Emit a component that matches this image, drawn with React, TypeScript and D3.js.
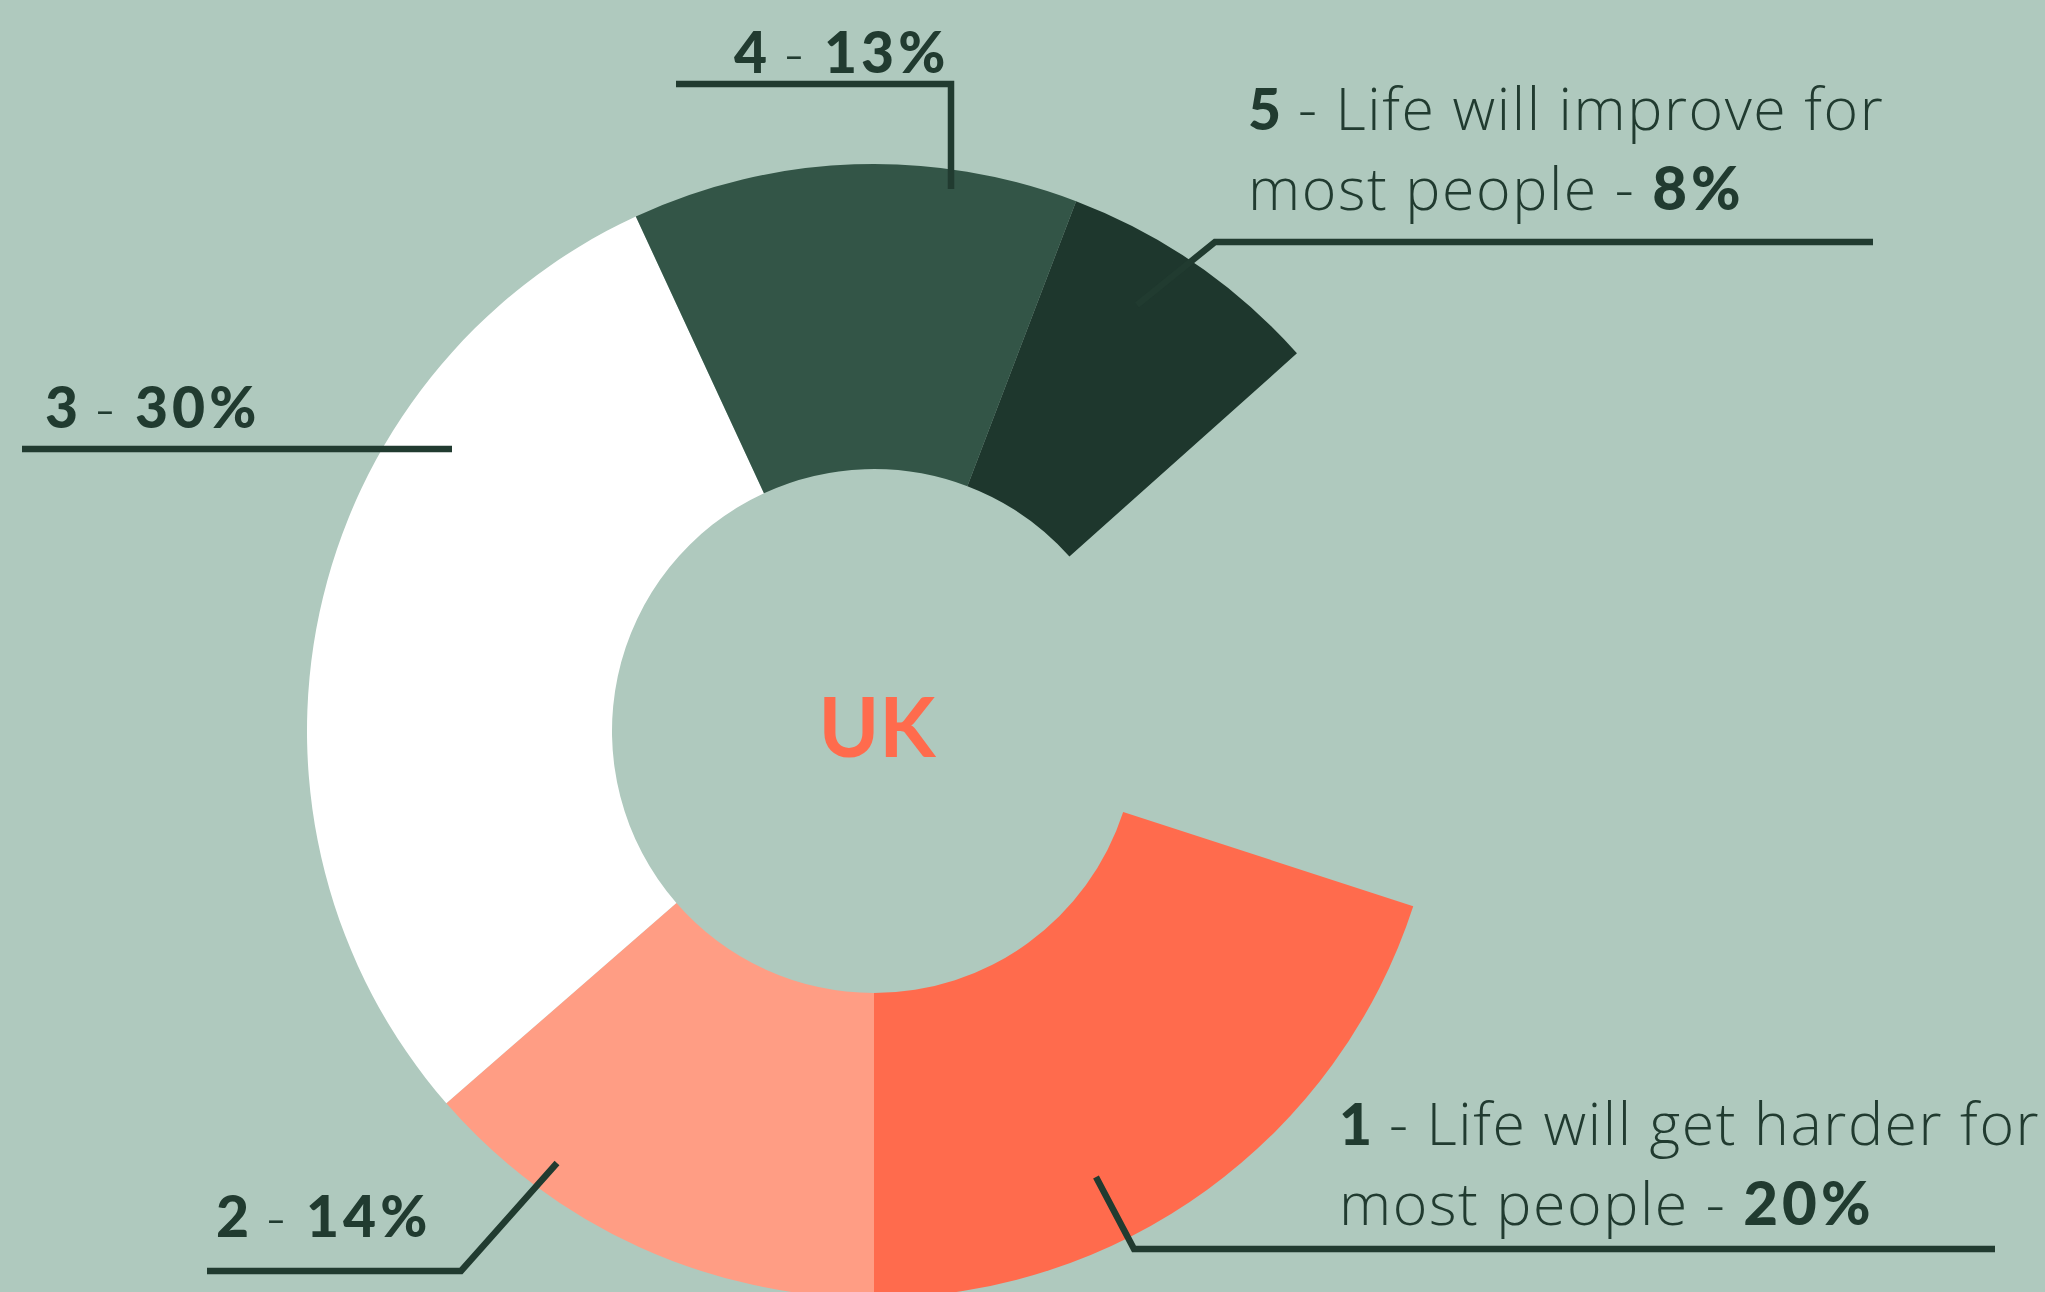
import React from "react";
import * as d3 from "d3";

// ---- data ----
const categories = ["1", "2", "3", "4", "5"];
// shares measured from the arc angles (percent of the full circle)
const shares = [20.0, 13.6, 29.5, 12.7, 7.6];
// remainder of the circle that is left empty
const emptyShare = 16.6;
const shareLabels = ["20%", "14%", "30%", "13%", "8%"];
const firstLine = ["Life will get harder for", "", "", "", "Life will improve for"];
const secondLine = ["most people", "", "", "", "most people"];
const centerLabel = "UK";

// ---- styles / layout ----
const W = 2045;
const H = 1292;
const BG = "#AFC9BE";
const INK = "#213B30";
const colors = ["#FF6B4D", "#FF9D84", "#FFFFFF", "#335547", "#1E372D"];
const CX = 874;
const CY = 731;
const R_IN = 262;
const R_OUT = 567;
const START_DEG = 108;

const BOLD_FONT = "Lato, 'Open Sans', sans-serif";
const LIGHT_FONT = "'Open Sans', Lato, sans-serif";
const FS = 57;
const FS_LIGHT = 59;
const LS_LIGHT = 1.6;
const LS_BOLD = 4;

type LabelLayout = { x: number; y: number; two: boolean; line: [number, number][] };
const labelLayout: LabelLayout[] = [
  { x: 1339, y: 1145, two: true, line: [[1096, 1177], [1134, 1249], [1995, 1249]] },
  { x: 216, y: 1237, two: false, line: [[557, 1163], [461, 1271], [207, 1271]] },
  { x: 45, y: 428, two: false, line: [[22, 449], [452, 449]] },
  { x: 734, y: 73, two: false, line: [[676, 84], [951, 84], [951, 189]] },
  { x: 1248, y: 130, two: true, line: [[1137, 305], [1215, 242], [1873, 242]] },
];

export default function App() {
  const all = [...shares, emptyShare];
  const toRad = (d: number) => (d * Math.PI) / 180;
  const pie = d3
    .pie<number>()
    .sort(null)
    .value((d) => d)
    .startAngle(toRad(START_DEG))
    .endAngle(toRad(START_DEG) + 2 * Math.PI);
  const arcs = pie(all).slice(0, shares.length);
  const arc = d3.arc<d3.PieArcDatum<number>>().innerRadius(R_IN).outerRadius(R_OUT);
  const lineGen = d3.line();

  return (
    <div style={{ position: "fixed", left: 0, top: 0, width: W, height: H }}>
      <svg width={W} height={H} style={{ display: "block" }}>
        <rect x={0} y={0} width={W} height={H} fill={BG} />
        <g transform={`translate(${CX},${CY})`}>
          {arcs.map((a, i) => (
            <path key={categories[i]} d={arc(a) || ""} fill={colors[i]} />
          ))}
        </g>
        <text
          x={CX + 3}
          y={CY + 26}
          textAnchor="middle"
          fontFamily={BOLD_FONT}
          fontWeight={700}
          fontSize={82}
          fill="#FF6B4D"
        >
          {centerLabel}
        </text>
        {labelLayout.map((L, i) => (
          <g key={"lab" + i}>
            <path
              d={lineGen(L.line) || ""}
              fill="none"
              stroke={INK}
              strokeWidth={6.5}
              strokeLinejoin="miter"
            />
            {L.two ? (
              <text fontSize={FS} fill={INK}>
                <tspan x={L.x} y={L.y} fontWeight={900} fontFamily={BOLD_FONT}>
                  {categories[i]}
                </tspan>
                <tspan
                  fontWeight={300}
                  fontFamily={LIGHT_FONT}
                  fontSize={FS_LIGHT}
                  letterSpacing={LS_LIGHT}
                >
                  {" - " + firstLine[i]}
                </tspan>
                <tspan
                  x={L.x}
                  y={L.y + 80}
                  fontWeight={300}
                  fontFamily={LIGHT_FONT}
                  fontSize={FS_LIGHT}
                  letterSpacing={LS_LIGHT}
                >
                  {secondLine[i] + " - "}
                </tspan>
                <tspan fontWeight={900} fontFamily={BOLD_FONT} fontSize={60} letterSpacing={LS_BOLD}>
                  {shareLabels[i]}
                </tspan>
              </text>
            ) : (
              <text x={L.x} y={L.y} fontSize={FS} fill={INK}>
                <tspan fontWeight={900} fontFamily={BOLD_FONT}>{categories[i]}</tspan>
                <tspan fontWeight={300} fontFamily={LIGHT_FONT} letterSpacing={3}>
                  {" - "}
                </tspan>
                <tspan fontWeight={900} fontFamily={BOLD_FONT} letterSpacing={LS_BOLD}>
                  {shareLabels[i]}
                </tspan>
              </text>
            )}
          </g>
        ))}
      </svg>
    </div>
  );
}
